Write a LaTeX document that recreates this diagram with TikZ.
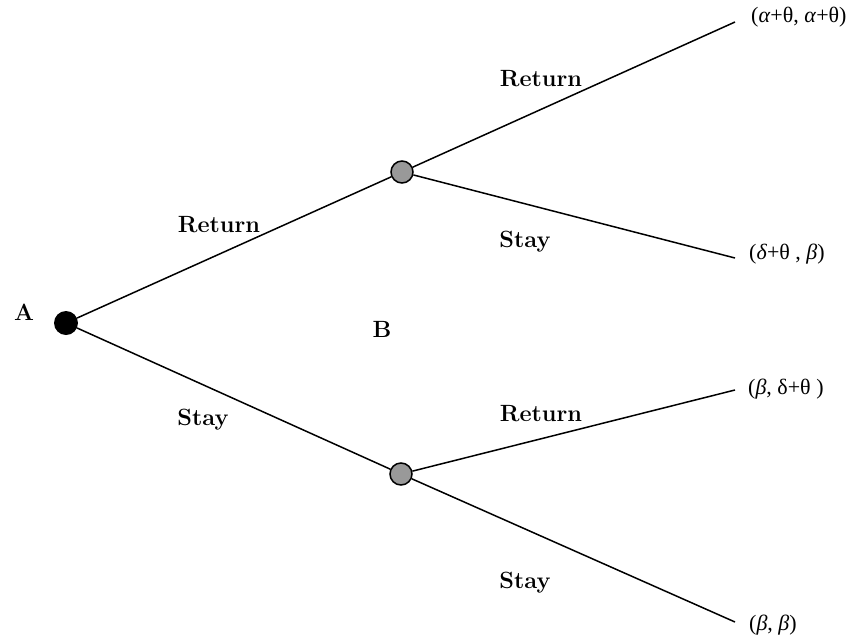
\documentclass[tikz,border=0pt]{standalone}
\usepackage{fontspec}
\newfontfamily\lib{Liberation Serif}
\begin{document}
\begin{tikzpicture}[x=1pt,y=-1pt,
  edge/.style={line width=1.5pt},
  root/.style={circle,fill=black,minimum size=24pt,inner sep=0pt},
  chance/.style={circle,fill=black!40,draw=black,line width=1.5pt,minimum size=22pt,inner sep=0pt},
  lbl/.style={font=\fontsize{23.5}{28}\selectfont\bfseries,inner sep=0pt},
  pay/.style={font=\fontsize{22}{26}\selectfont\lib,inner sep=0pt,anchor=west}]
\useasboundingbox (0,0) rectangle (852,638);
\node[root] (A) at (66,323) {};
\node[chance] (U) at (402,172) {};
\node[chance] (L) at (401,474) {};
\coordinate (e1) at (735,22);
\coordinate (e2) at (735,258);
\coordinate (e3) at (735,390);
\coordinate (e4) at (735,622);
\draw[edge] (A) -- (U);
\draw[edge] (A) -- (L);
\draw[edge] (U) -- (e1);
\draw[edge] (U) -- (e2);
\draw[edge] (L) -- (e3);
\draw[edge] (L) -- (e4);
\node[lbl] (la) at (24,312) {A};
\node[lbl] (lb) at (382,329) {B};
\node[lbl] (r1) at (219,225) {Return};
\node[lbl] (s1) at (203,420) {Stay};
\node[lbl] (r2) at (541,79) {Return};
\node[lbl] (s2) at (525,242) {Stay};
\node[lbl] (r3) at (541,414) {Return};
\node[lbl] (s3) at (525,583) {Stay};
\node[pay] (p1) at (751,17) {(\textit{α}+θ, \textit{α}+θ)};
\node[pay] (p2) at (749,254) {(\textit{δ}+θ , \textit{β})};
\node[pay] (p3) at (748,389) {(\textit{β}, δ+θ )};
\node[pay] (p4) at (749,625) {(\textit{β}, \textit{β})};
\end{tikzpicture}
\end{document}
